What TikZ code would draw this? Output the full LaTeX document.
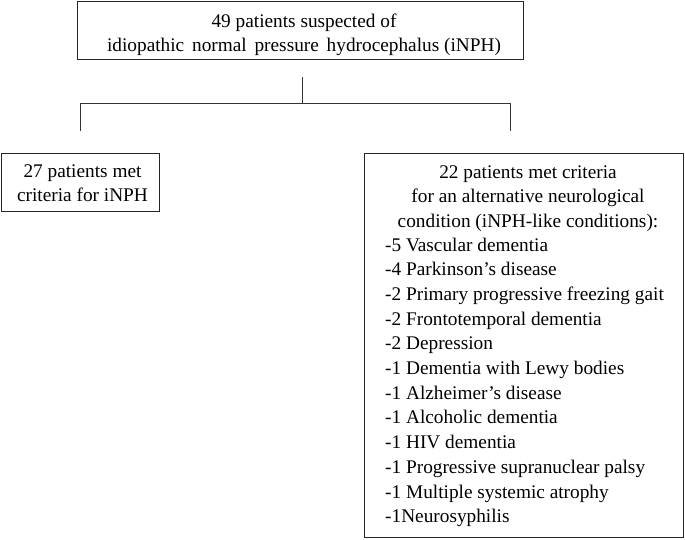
\documentclass[tikz,border=0pt]{standalone}
\usepackage{fontspec}
\setmainfont{Liberation Serif}
\begin{document}
\begin{tikzpicture}[x=1pt,y=-1pt,
  boxstyle/.style={draw=black!85, line width=0.9pt, rectangle, inner sep=0pt},
  txt/.style={inner sep=0pt, font=\fontsize{19.3}{24.7}\selectfont},
  conn/.style={draw=black!80, line width=0.9pt}]
\useasboundingbox (0,0) rectangle (685,539);
% boxes
\node[boxstyle, minimum width=446pt, minimum height=58pt] (top) at (300,30) {};
\node[boxstyle, minimum width=158pt, minimum height=58pt] (left) at (80,182) {};
\node[boxstyle, minimum width=319pt, minimum height=384pt] (right) at (523.5,345) {};
% texts
\node[txt, anchor=base] (toptxt) at (304,27) {\begin{tabular}[t]{@{}c@{}}49 patients suspected of\\ idiopathic\hspace{3pt} normal\hspace{3pt} pressure\hspace{3pt} hydrocephalus (iNPH)\end{tabular}};
\node[txt, anchor=base] (lefttxt) at (82.5,177) {\begin{tabular}[t]{@{}c@{}}27 patients met\\ criteria for iNPH\end{tabular}};
\node[txt, anchor=base] (righttitle) at (528,178) {\begin{tabular}[t]{@{}c@{}}22 patients met criteria\\ for an alternative neurological\\ condition (iNPH-like conditions):\end{tabular}};
\node[txt, anchor=base west] (rightlist) at (385,251) {\begin{tabular}[t]{@{}l@{}}-5 Vascular dementia\\
-4 Parkinson’s disease\\
-2 Primary progressive freezing gait\\
-2 Frontotemporal dementia\\
-2 Depression\\
-1 Dementia with Lewy bodies\\
-1 Alzheimer’s disease\\
-1 Alcoholic dementia\\
-1 HIV dementia\\
-1 Progressive supranuclear palsy\\
-1 Multiple systemic atrophy\\
-1Neurosyphilis\end{tabular}};
% connectors
\coordinate (stemtop) at (302,77);
\coordinate (junction) at (302,103);
\coordinate (ljoin) at (80,103);
\coordinate (lend) at (80,131);
\coordinate (rjoin) at (510,103);
\coordinate (rend) at (510,131);
\draw[conn] (stemtop) -- (junction);
\draw[conn] (lend) -- (ljoin) -- (rjoin) -- (rend);
\end{tikzpicture}
\end{document}
